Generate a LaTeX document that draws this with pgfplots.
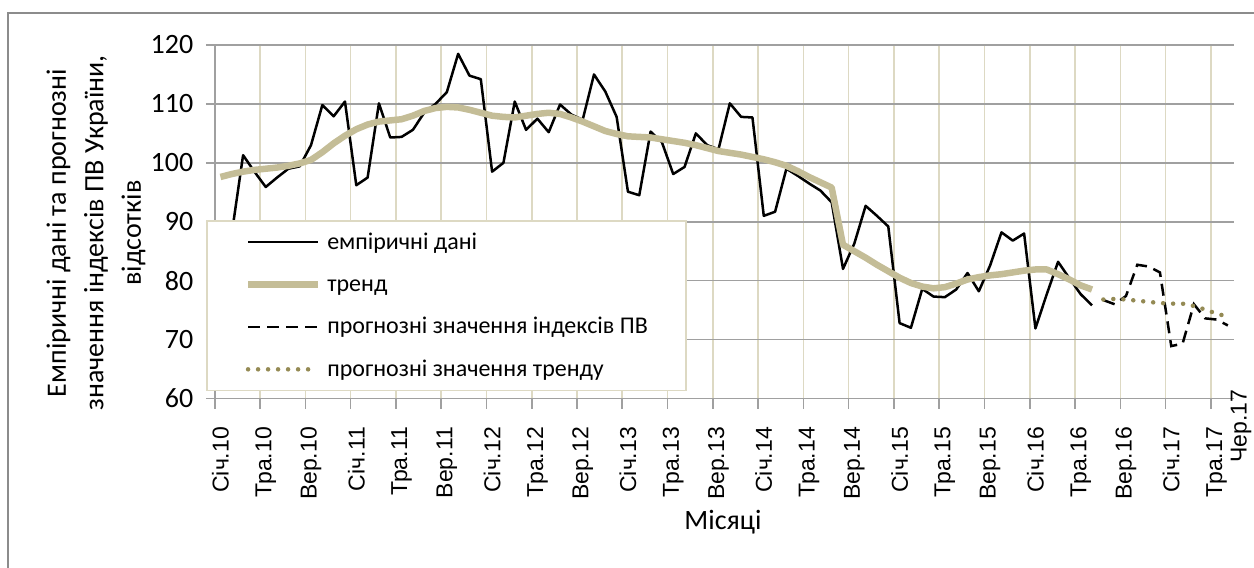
\documentclass[border=0pt]{standalone}
\usepackage{pgfplots}
\usepackage{pgfplotstable}
\pgfplotsset{compat=1.18}
\usepackage{fontspec}
\setmainfont{Carlito}
\newfontfamily\arialf{Liberation Sans}
\definecolor{tanline}{HTML}{C4BD97}
\definecolor{tandot}{HTML}{948A54}
\definecolor{vgrid}{HTML}{DDD9C3}
\definecolor{hgrid}{HTML}{A0A0A0}
\definecolor{frame}{HTML}{8C8C8C}

\pgfplotstableread{
k v
0 86
1 88
2 101.3
3 98.5
4 95.9
5 97.5
6 99.0
7 99.4
8 103.0
9 109.8
10 107.9
11 110.4
12 96.2
13 97.5
14 110.1
15 104.3
16 104.4
17 105.6
18 108.5
19 110.0
20 112.0
21 118.5
22 114.8
23 114.2
24 98.5
25 100.0
26 110.4
27 105.6
28 107.5
29 105.2
30 109.9
31 108.2
32 107.3
33 115.0
34 112.1
35 107.8
36 95.1
37 94.5
38 105.3
39 103.5
40 98.1
41 99.3
42 105.0
43 103.0
44 102.3
45 110.1
46 107.8
47 107.7
48 91.0
49 91.7
50 99.0
51 97.8
52 96.5
53 95.3
54 93.3
55 82.0
56 86.3
57 92.7
58 91.0
59 89.2
60 72.8
61 72.0
62 78.6
63 77.3
64 77.2
65 78.5
66 81.3
67 78.2
68 82.6
69 88.2
70 86.8
71 88.0
72 71.9
73 77.7
74 83.2
75 80.4
76 77.7
77 75.8
}\empirical

\pgfplotstableread{
k v
0 97.6
1 98.1
2 98.5
3 98.8
4 99.0
5 99.2
6 99.5
7 99.9
8 100.5
9 101.8
10 103.3
11 104.6
12 105.7
13 106.5
14 107.0
15 107.2
16 107.4
17 108.0
18 108.8
19 109.3
20 109.5
21 109.4
22 109.0
23 108.5
24 108.0
25 107.8
26 107.7
27 108.0
28 108.3
29 108.5
30 108.3
31 107.7
32 107.0
33 106.2
34 105.4
35 104.9
36 104.5
37 104.4
38 104.3
39 104.0
40 103.7
41 103.4
42 103.0
43 102.5
44 102.0
45 101.7
46 101.4
47 101.0
48 100.6
49 100.1
50 99.5
51 98.6
52 97.6
53 96.7
54 95.8
55 86.1
56 85.0
57 83.9
58 82.7
59 81.6
60 80.5
61 79.6
62 79.0
63 78.7
64 78.9
65 79.5
66 80.2
67 80.6
68 80.9
69 81.1
70 81.4
71 81.7
72 81.9
73 81.9
74 81.1
75 80.2
76 79.2
77 78.5
}\trend

\pgfplotstableread{
k v
78 76.7
79 76.0
80 77.4
81 82.7
82 82.4
83 81.4
84 68.9
85 69.3
86 76.0
87 73.6
88 73.4
89 72.4
}\forecast

\pgfplotstableread{
k v
78 76.8
79 76.9
80 76.8
81 76.6
82 76.4
83 76.2
84 76.1
85 76.1
86 75.7
87 75.1
88 74.4
89 73.9
}\trendforecast

\begin{document}
\begin{tikzpicture}
\useasboundingbox (0pt,0pt) rectangle (1254pt,568pt);
\draw[frame, line width=2pt] (7.5pt,-5pt) -- (7.5pt,555pt) -- (1260pt,555pt);
\begin{axis}[
  at={(214.8pt,169.5pt)}, anchor=south west,
  scale only axis, width=1018.8pt, height=353.5pt,
  xmin=0, xmax=90, ymin=60, ymax=120,
  axis x line*=bottom, axis y line*=left,
  axis line style={hgrid, line width=1.6pt},
  tick align=outside,
  xtick={0.5,4.5,8.5,12.5,16.5,20.5,24.5,28.5,32.5,36.5,40.5,44.5,48.5,52.5,56.5,60.5,64.5,68.5,72.5,76.5,80.5,84.5,88.5},
  xticklabels={Січ.10,Тра.10,Вер.10,Січ.11,Тра.11,Вер.11,Січ.12,Тра.12,Вер.12,Січ.13,Тра.13,Вер.13,Січ.14,Тра.14,Вер.14,Січ.15,Тра.15,Вер.15,Січ.16,Тра.16,Вер.16,Січ.17,Тра.17},
  major x tick style={draw=none},
  minor xtick={0,4,...,88},
  minor x tick style={hgrid, line width=1.6pt},
  minor tick length=10pt,
  xminorgrids=true,
  minor x grid style={vgrid, line width=1.6pt},
  xticklabel style={font=\arialf\fontsize{23}{23}\selectfont, rotate=90, anchor=east},
  xticklabel shift=16pt,
  ytick={60,70,...,120},
  major tick length=9pt,
  major y tick style={hgrid, line width=1.6pt},
  ymajorgrids=true,
  major y grid style={hgrid, line width=1.6pt},
  yticklabel style={font=\fontsize{28}{28}\selectfont},
  yticklabel shift=9pt,
  /pgf/number format/assume math mode=true,
  legend cell align=left,
  legend image code/.code={\draw[#1] (0pt,0pt) -- (70pt,0pt);},
  legend style={at={(-0.0086,0.504)}, anchor=north west, draw=vgrid, line width=1.6pt, fill=white,
     font=\fontsize{24}{24}\selectfont, inner xsep=38pt, inner ysep=8pt,
     nodes={inner sep=0pt, text height=20pt, text depth=6pt},
     row sep=16.4pt,
     /tikz/every odd column/.append style={column sep=6pt}},
]
\addplot[black, line width=2.5pt, line join=round] table[x expr=\thisrow{k}+0.5, y=v] {\empirical};
\addlegendentry{емпіричні дані}
\addplot[tanline, line width=6.5pt, line join=round] table[x expr=\thisrow{k}+0.5, y=v] {\trend};
\addlegendentry{тренд}
\addplot[black, line width=2.5pt, dash pattern=on 12pt off 7pt] table[x expr=\thisrow{k}+0.5, y=v] {\forecast};
\addlegendentry{прогнозні значення індексів ПВ}
\addplot[tandot, line width=4.5pt, line cap=round, dash pattern=on 0pt off 10pt] table[x expr=\thisrow{k}+0.5, y=v] {\trendforecast};
\addlegendentry{прогнозні значення тренду}
\end{axis}
\node[rotate=90, align=center, font=\fontsize{28}{37.5}\selectfont] at (96pt,335pt)
  {Емпіричні дані та прогнозні\\значення індексів ПВ України,\\відсотків};
\node[font=\fontsize{28}{28}\selectfont] at (723pt,46pt) {Місяці};
\node[rotate=90, anchor=east, font=\arialf\fontsize{23}{23}\selectfont] at (1241pt,182pt) {Чер.17};
\end{tikzpicture}
\end{document}
